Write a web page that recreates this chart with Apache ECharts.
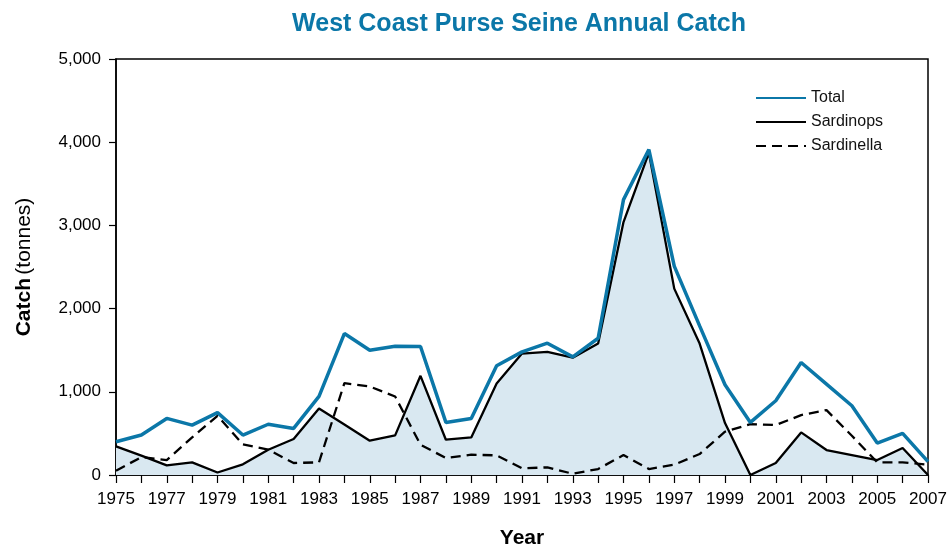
<!DOCTYPE html>
<html>
<head>
<meta charset="utf-8">
<title>West Coast Purse Seine Annual Catch</title>
<script src="https://cdn.jsdelivr.net/npm/echarts@6/dist/echarts.min.js"></script>
<style>
  html, body { margin: 0; padding: 0; background: #fff; }
  #chart { width: 947px; height: 549px; }
</style>
</head>
<body>
<div id="chart"></div>
<script>
// years on the x axis
const years = [];
for (let y = 1975; y <= 2007; y++) years.push(String(y));

// catch in tonnes
const total = [400, 480, 680, 600, 750, 480, 610, 560, 945, 1700,
  1500, 1548, 1545, 632, 680, 1312, 1480, 1584, 1420, 1644,
  3310, 3912, 2510, 1792, 1085, 632, 892, 1352, 1092, 832,
  384, 500, 160];
const sardinops = [344, 232, 115, 152, 30, 128, 304, 432, 800, 608,
  412, 476, 1192, 424, 452, 1100, 1460, 1480, 1410, 1580,
  3040, 3872, 2240, 1580, 624, 0, 144, 512, 300, 240,
  180, 324, 0];
const sardinella = [52, 215, 180, 452, 712, 368, 304, 144, 152, 1104,
  1064, 944, 364, 204, 244, 236, 80, 92, 15, 72,
  240, 72, 124, 252, 520, 612, 600, 720, 780, 472,
  152, 152, 124];

const blue = "#0b77a8";
const font = "Liberation Sans, Arial, sans-serif";

let chart = echarts.init(document.getElementById("chart"));
let option = {
  animation: false,
  title: {
    text: "West Coast Purse Seine Annual Catch",
    left: 514,
    textAlign: "center",
    top: 7,
    textStyle: {
      color: blue,
      fontFamily: "Liberation Sans Narrow, " + font,
      fontWeight: "bold",
      fontSize: 25,
    },
  },
  legend: {
    orient: "vertical",
    left: 750,
    top: 85,
    itemWidth: 50,
    itemHeight: 14,
    itemGap: 8,
    // hide the round marker, keep only the line
    itemStyle: { opacity: 0, borderWidth: 0 },
    data: ["Total", "Sardinops", "Sardinella"],
    textStyle: {
      fontFamily: font,
      fontSize: 16,
      color: "#111",
    },
  },
  grid: {
    left: 116,
    right: 19,
    top: 59,
    bottom: 74,
    outerBoundsMode: "none",
    show: true,
    borderColor: "#000",
    borderWidth: 1.5,
  },
  xAxis: {
    type: "category",
    data: years,
    boundaryGap: false,
    name: "Year",
    nameLocation: "middle",
    nameGap: 53,
    nameTextStyle: {
      fontFamily: font,
      fontWeight: "bold",
      fontSize: 21,
      color: "#000",
    },
    axisLine: { lineStyle: { color: "#000", width: 1.5 } },
    axisTick: { interval: 0, length: 8, lineStyle: { color: "#000", width: 1.2 } },
    axisLabel: {
      interval: 1,
      margin: 16,
      color: "#000",
      fontFamily: font,
      fontSize: 17,
    },
  },
  yAxis: {
    type: "value",
    min: 0,
    max: 5000,
    interval: 1000,
    name: "{b|Catch} {n|(tonnes)}",
    nameLocation: "middle",
    nameGap: 81,
    nameRotate: 90,
    nameTextStyle: {
      rich: {
        b: { fontFamily: font, fontWeight: "bold", fontSize: 21, color: "#000" },
        n: { fontFamily: font, fontSize: 21, color: "#000" },
      },
    },
    axisLine: { show: true, lineStyle: { color: "#000", width: 1.5 } },
    axisTick: { show: true, length: 7, lineStyle: { color: "#000", width: 1.2 } },
    splitLine: { show: false },
    axisLabel: {
      margin: 15,
      color: "#000",
      fontFamily: font,
      fontSize: 17,
      formatter: function (v) {
        return v.toLocaleString("en-US");
      },
    },
  },
  series: [
    {
      name: "Sardinops",
      type: "line",
      data: sardinops,
      symbol: "none",
      z: 2,
      lineStyle: { color: "#000", width: 2.3 },
      itemStyle: { color: "#000" },
      areaStyle: { color: "#d9e8f1", opacity: 1 },
    },
    {
      name: "Sardinella",
      type: "line",
      data: sardinella,
      symbol: "none",
      z: 3,
      lineStyle: { color: "#000", width: 2.3, type: [10, 6] },
      itemStyle: { color: "#000" },
    },
    {
      name: "Total",
      type: "line",
      data: total,
      symbol: "none",
      z: 4,
      lineStyle: { color: blue, width: 3.5 },
      itemStyle: { color: blue },
    },
  ],
};
chart.setOption(option);
</script>
</body>
</html>
